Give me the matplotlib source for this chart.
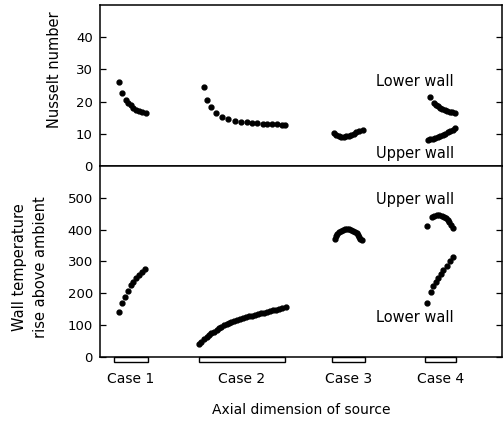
import numpy as np
import matplotlib
matplotlib.use('Agg')
import matplotlib.pyplot as plt
import matplotlib.transforms as mtrans
from matplotlib.patches import Rectangle

plt.rcParams['font.family'] = 'DejaVu Sans'

# axial position, arbitrary units (0 .. 402 across the axis)
case_names = ['Case 1', 'Case 2', 'Case 3', 'Case 4']
source_start = [14, 99, 232, 325]
source_end = [48, 185, 265, 356]

# Nusselt number, lower wall
nu_c1_x = [19, 22, 26, 28.3, 30.7, 33.3, 36, 39, 42.3, 46]
nu_c1_y = [26.2, 22.7, 20.4, 19.6, 18.8, 18.1, 17.5, 17.1, 16.8, 16.5]
nu_c2_x = [103.7, 107, 111, 116.3, 122.3, 128.3, 134.7, 141.3, 146.7, 152, 157.3,
           162.7, 166.7, 171.7, 176.7, 181.7, 185]
nu_c2_y = [24.4, 20.4, 18.2, 16.5, 15.2, 14.5, 13.9, 13.75, 13.5, 13.3, 13.2,
           13.1, 13.1, 13.0, 12.9, 12.8, 12.8]
nu_c4_low_x = [330, 334, 336, 338, 340, 342.5, 345, 347.5, 350, 352.5, 355]
nu_c4_low_y = [21.5, 19.6, 19.0, 18.5, 18.1, 17.7, 17.4, 17.1, 16.9, 16.7, 16.5]
# Nusselt number, upper wall
nu_c3_x = [234, 236.5, 239, 241.5, 244, 246.5, 249, 251.5, 254, 256.5, 259, 262.7]
nu_c3_y = [10.2, 9.6, 9.2, 9.0, 9.0, 9.2, 9.4, 9.7, 10.0, 10.4, 10.8, 11.3]
nu_c4_up_x = [328, 330.5, 333, 335.5, 338, 340.5, 343, 345.5, 348, 350.5, 353, 355]
nu_c4_up_y = [7.9, 8.2, 8.5, 8.8, 9.1, 9.4, 9.7, 10.0, 10.4, 10.8, 11.3, 11.8]

# wall temperature rise above ambient
dt_c1_x = [19, 22, 25, 28, 31, 33.3, 36, 39, 41.7, 45]
dt_c1_y = [140, 169, 188, 207, 226, 237, 247, 258, 267, 277]
dt_c2_x = [99, 101.5, 104, 106.7, 109, 111.5, 114, 116.7, 119, 121.5, 124, 126.7,
           129, 131.5, 134, 137, 140, 143, 146, 149, 152, 155, 158, 161, 164,
           167, 170, 173, 176, 179, 182, 185.7]
dt_c2_y = [41, 48, 55, 63, 69, 75, 80, 85, 90, 95, 99, 104, 107, 111, 114, 117,
           120, 123, 126, 128, 130, 132, 135, 137, 139, 142, 144, 147, 149, 151,
           153, 156]
dt_c3_x = [235, 236, 237.3, 239, 240.7, 243, 245, 247, 249.3, 251.3, 253.3, 255,
           256.7, 258, 259.3, 260.5, 261.7]
dt_c3_y = [370, 379, 386, 392, 396, 399, 401, 402, 401, 399, 397, 393, 389, 384,
           378, 372, 366]
dt_c4_up_x = [327.3, 331.7, 334, 336.7, 339, 341.7, 344, 346, 348, 349.3, 351.3, 353.3]
dt_c4_up_y = [412, 439, 443, 446, 446, 444, 440, 436, 430, 425, 415, 405]
dt_c4_low_x = [327.3, 330.7, 333.3, 335.7, 338.3, 340.7, 343.3, 346.7, 350, 353.3]
dt_c4_low_y = [171, 205, 223, 237, 247, 261, 274, 286, 300, 313]

fig = plt.figure(figsize=(5.04, 4.21), dpi=100)
ax1 = fig.add_axes([0.198, 0.606, 0.798, 0.382])
ax2 = fig.add_axes([0.198, 0.152, 0.798, 0.454])

dot = dict(color='black', marker='o', ms=3.5, ls='none')

for x, y in [(nu_c1_x, nu_c1_y), (nu_c2_x, nu_c2_y), (nu_c3_x, nu_c3_y),
             (nu_c4_low_x, nu_c4_low_y), (nu_c4_up_x, nu_c4_up_y)]:
    ax1.plot(x, y, **dot)
for x, y in [(dt_c1_x, dt_c1_y), (dt_c2_x, dt_c2_y), (dt_c3_x, dt_c3_y),
             (dt_c4_up_x, dt_c4_up_y), (dt_c4_low_x, dt_c4_low_y)]:
    ax2.plot(x, y, **dot)

for ax in (ax1, ax2):
    ax.set_xlim(0, 402)
    for s in ax.spines.values():
        s.set_linewidth(1.1)
    ax.tick_params(axis='y', direction='in', length=4, width=0.9, right=True,
                   labelsize=9.5, pad=5)

ax1.set_ylim(0, 50)
ax1.set_yticks([0, 10, 20, 30, 40])
ax1.set_xticks([])
ax1.set_ylabel('Nusselt number', fontsize=10.5)
ax1.yaxis.set_label_coords(-0.094, 0.6)

ax2.set_ylim(0, 600)
ax2.set_yticks([0, 100, 200, 300, 400, 500])
ax2.set_ylabel('Wall temperature\nrise above ambient', fontsize=10.5,
               linespacing=1.45)
ax2.yaxis.set_label_coords(-0.13, 0.47)

centers = [(a + b) / 2 for a, b in zip(source_start, source_end)]
ax2.set_xticks(centers)
ax2.set_xticklabels(case_names, fontsize=10)
ax2.tick_params(axis='x', length=0, pad=11)
ax2.set_xlabel('Axial dimension of source', fontsize=10, labelpad=12)

# source extents drawn as small open bars under the axis
trans = mtrans.blended_transform_factory(ax2.transData, ax2.transAxes)
for a, b in zip(source_start, source_end):
    ax2.add_patch(Rectangle((a, -0.024), b - a, 0.024, transform=trans,
                            fill=False, lw=1.0, ec='black', clip_on=False))

ax1.text(276, 26.3, 'Lower wall', fontsize=10.5, va='center')
ax1.text(276, 3.7, 'Upper wall', fontsize=10.5, va='center')
ax2.text(276, 494, 'Upper wall', fontsize=10.5, va='center')
ax2.text(276, 123, 'Lower wall', fontsize=10.5, va='center')

fig.savefig('out.png', dpi=100)
